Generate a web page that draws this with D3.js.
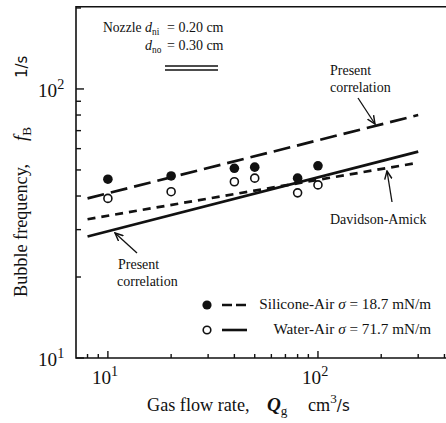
<!DOCTYPE html>
<html><head><meta charset="utf-8">
<script src="https://cdn.jsdelivr.net/npm/d3@7"></script>
<style>
body{margin:0;background:#fff;}
svg{display:block;}
</style></head>
<body>
<script>
// ---- data ----
const flowRates = [10, 20, 40, 50, 80, 100];
const siliconeFreq = [46.2, 47.5, 50.7, 51.2, 46.6, 51.8];
const waterFreq = [39.2, 41.5, 45.2, 46.6, 41.1, 44.0];
const corrQ = [8, 300];
const siliconeCorr = [39.2, 80.0];
const waterCorr = [28.3, 58.5];
const davidsonAmick = [32.8, 53.2];
const xMajor = [10, 100];
const xMinor = [8, 9, 20, 30, 40, 50, 60, 70, 80, 90, 200, 300, 400];
const yMajor = [10, 100];
const yMinor = [20, 30, 40, 50, 60, 70, 80, 90, 200];

const SERIF = "Liberation Serif";
const SANS = "DejaVu Sans";
const W = 446, H = 423;
const svg = d3.select("body").append("svg").attr("width", W).attr("height", H)
  .attr("font-family", SERIF);

const x = d3.scaleLog().domain([7.05, 410]).range([76, 446.7]);
const y = d3.scaleLog().domain([10, 202]).range([358, 6.8]);

const ink = "#111";
// frame
svg.append("path").attr("d", `M${x(410)},${y(202)}H${x(7.05)}V${y(10)}H${x(410)}`)
  .attr("fill","none").attr("stroke",ink).attr("stroke-width",1.6);

// ticks
const g = svg.append("g").attr("stroke", ink).attr("stroke-width", 1.4);
xMajor.forEach(v => g.append("line").attr("x1",x(v)).attr("x2",x(v)).attr("y1",y(10)).attr("y2",y(10)-7));
xMinor.forEach(v => g.append("line").attr("x1",x(v)).attr("x2",x(v)).attr("y1",y(10)).attr("y2",y(10)-4));
yMajor.forEach(v => g.append("line").attr("x1",x(7.05)).attr("x2",x(7.05)+8).attr("y1",y(v)).attr("y2",y(v)));
yMinor.forEach(v => g.append("line").attr("x1",x(7.05)).attr("x2",x(7.05)+5).attr("y1",y(v)).attr("y2",y(v)));

function T(sel){ return sel.attr("font-family", SERIF).attr("fill", ink); }

// tick labels
function pow10(sel, exp){
  sel.append("tspan").text("10");
  sel.append("tspan").attr("dy",-8).attr("font-size",14.2).text(exp);
}
[[10,"1"],[100,"2"]].forEach(([v,e])=>{
  const t = T(svg.append("text")).attr("x", x(v)-16).attr("y", 384).attr("font-size",19.2);
  pow10(t,e);
  const t2 = T(svg.append("text")).attr("x", 38).attr("y", y(v)+8).attr("font-size",19.2);
  pow10(t2,e);
});

// lines
const line = d3.line().x(d=>x(d[0])).y(d=>y(d[1]));
svg.append("path").datum(corrQ.map((q,i)=>[q,siliconeCorr[i]])).attr("d",line)
  .attr("fill","none").attr("stroke",ink).attr("stroke-width",2.7).attr("stroke-dasharray","17,7");
svg.append("path").datum(corrQ.map((q,i)=>[q,waterCorr[i]])).attr("d",line)
  .attr("fill","none").attr("stroke",ink).attr("stroke-width",2.7);
svg.append("path").datum(corrQ.map((q,i)=>[q,davidsonAmick[i]])).attr("d",line)
  .attr("fill","none").attr("stroke",ink).attr("stroke-width",2.7).attr("stroke-dasharray","8,6");

// points
svg.selectAll("circle.s").data(flowRates).enter().append("circle")
  .attr("cx",d=>x(d)).attr("cy",(d,i)=>y(siliconeFreq[i])).attr("r",4.8).attr("fill",ink);
svg.selectAll("circle.w").data(flowRates).enter().append("circle")
  .attr("cx",d=>x(d)).attr("cy",(d,i)=>y(waterFreq[i])).attr("r",4).attr("fill","#fff")
  .attr("stroke",ink).attr("stroke-width",1.6);

// arrows
const defs = svg.append("defs");
defs.append("marker").attr("id","ah").attr("viewBox","0 0 10 10").attr("refX",9).attr("refY",5)
  .attr("markerWidth",7).attr("markerHeight",7).attr("orient","auto")
  .append("path").attr("d","M0,1 L9,5 L0,9").attr("fill","none").attr("stroke",ink).attr("stroke-width",1.6);
function arrow(x1,y1,x2,y2){
  svg.append("line").attr("x1",x1).attr("y1",y1).attr("x2",x2).attr("y2",y2)
    .attr("stroke",ink).attr("stroke-width",1.3).attr("marker-end","url(#ah)");
}
arrow(358,98,375,124);
arrow(392,202,387,171);
arrow(137,253,115,233);

// annotation texts
function txt(xp,yp,s,size,anchor){
  return T(svg.append("text")).attr("x",xp).attr("y",yp).attr("font-size",size||14).attr("text-anchor",anchor||"start").text(s);
}
txt(330,75,"Present");
txt(330,92,"correlation");
txt(330,224,"Davidson-Amick");
txt(118,269,"Present");
txt(117,286,"correlation");

// nozzle
txt(103,32,"Nozzle",13.6);
const n1 = T(svg.append("text")).attr("x",145).attr("y",32).attr("font-size",14);
n1.append("tspan").attr("font-style","italic").text("d");
n1.append("tspan").attr("font-size",9.4).attr("dy",2.5).text("ni");
n1.append("tspan").attr("dy",-2.5).attr("x",167).text("= 0.20 cm");
const n2 = T(svg.append("text")).attr("x",145).attr("y",50).attr("font-size",14);
n2.append("tspan").attr("font-style","italic").text("d");
n2.append("tspan").attr("font-size",9.4).attr("dy",2.5).text("no");
n2.append("tspan").attr("dy",-2.5).attr("x",167).text("= 0.30 cm");
svg.append("line").attr("x1",165).attr("x2",218).attr("y1",66).attr("y2",66).attr("stroke",ink).attr("stroke-width",1.3);
svg.append("line").attr("x1",165).attr("x2",218).attr("y1",70).attr("y2",70).attr("stroke",ink).attr("stroke-width",1.3);

// legend
svg.append("circle").attr("cx",207).attr("cy",305).attr("r",4.6).attr("fill",ink);
svg.append("line").attr("x1",222).attr("x2",247).attr("y1",305).attr("y2",305).attr("stroke",ink).attr("stroke-width",2.6).attr("stroke-dasharray","10,4");
svg.append("circle").attr("cx",207).attr("cy",330).attr("r",3.8).attr("fill","#fff").attr("stroke",ink).attr("stroke-width",1.6);
svg.append("line").attr("x1",222).attr("x2",247).attr("y1",330).attr("y2",330).attr("stroke",ink).attr("stroke-width",2.6);
const l1 = T(svg.append("text")).attr("x",431).attr("y",309).attr("font-size",15.2).attr("text-anchor","end");
l1.append("tspan").text("Silicone-Air ");
l1.append("tspan").attr("font-style","italic").text("σ");
l1.append("tspan").text(" = 18.7 mN/m");
const l2 = T(svg.append("text")).attr("x",431).attr("y",334).attr("font-size",15.2).attr("text-anchor","end");
l2.append("tspan").text("Water-Air  ");
l2.append("tspan").attr("font-style","italic").text("σ");
l2.append("tspan").text(" = 71.7 mN/m");

// axis titles
const xl = T(svg.append("text")).attr("x",147).attr("y",411).attr("font-size",18.2);
xl.append("tspan").text("Gas flow rate,");
xl.append("tspan").attr("x",267).attr("font-style","italic").attr("font-weight","bold").attr("font-size",19.2).text("Q");
xl.append("tspan").attr("font-size",13.2).attr("dy",4).text("g");
xl.append("tspan").attr("dy",-4).attr("x",308).text("cm");
xl.append("tspan").attr("dy",-8).attr("font-size",13.2).text("3");
xl.append("tspan").attr("dy",8).attr("font-family",SANS).attr("font-size",15).text("/s");

const yl = T(svg.append("text")).attr("transform","translate(27,0) rotate(-90)").attr("font-size",18.2);
yl.append("tspan").attr("x",-297).text("Bubble frequency,");
yl.append("tspan").attr("x",-141).attr("font-style","italic").attr("font-size",19.2).text("f");
yl.append("tspan").attr("font-size",13.2).attr("dy",4).text("B");
yl.append("tspan").attr("dy",-4).attr("x",-78).attr("font-family",SANS).attr("font-size",15).text("1/s");
</script>
</body></html>
